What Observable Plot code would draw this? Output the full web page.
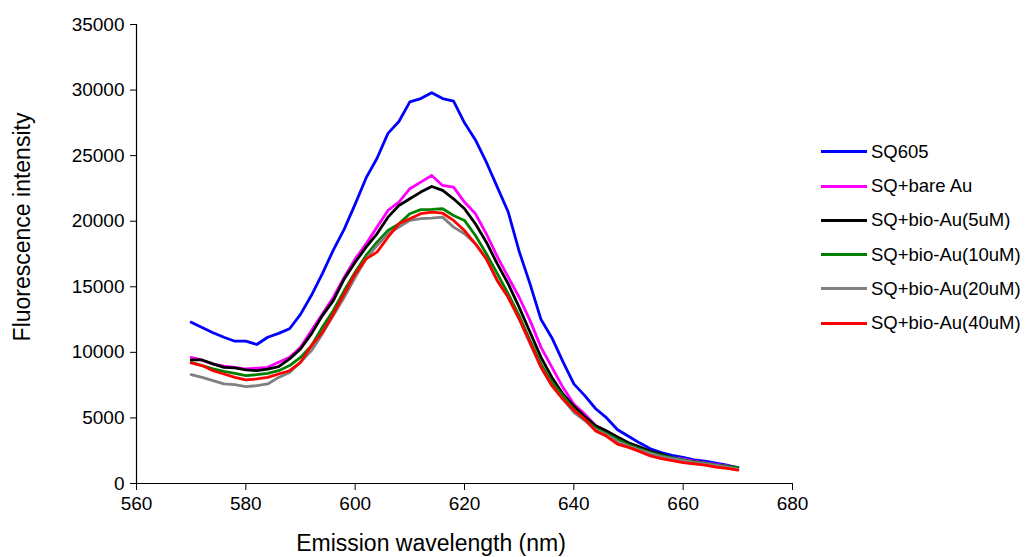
<!DOCTYPE html>
<html>
<head>
<meta charset="utf-8">
<script src="https://cdn.jsdelivr.net/npm/d3@7"></script>
<script src="https://cdn.jsdelivr.net/npm/@observablehq/plot@0.6"></script>
<style>
  html, body { margin: 0; padding: 0; background: #fff; }
  #wrap { position: relative; width: 1032px; height: 557px; font-family: "Liberation Sans", Arial, sans-serif; color: #000; }
  .title { position: absolute; white-space: nowrap; font-size: 23px; line-height: 1; }
  .leg { position: absolute; left: 821px; height: 20px; display: flex; align-items: center; font-size: 18.5px; white-space: nowrap; }
  .leg .sw { width: 46px; height: 3px; margin-right: 4px; }
</style>
</head>
<body>
<div id="wrap"></div>
<script>
const wavelengths = d3.range(570, 671, 2);

const seriesNames = ["SQ605", "SQ+bare Au", "SQ+bio-Au(5uM)", "SQ+bio-Au(10uM)", "SQ+bio-Au(20uM)", "SQ+bio-Au(40uM)"];
const seriesColors = ["#0000ff", "#ff00ff", "#000000", "#008000", "#808080", "#ff0000"];

const sq605 = [12300, 11900, 11500, 11150, 10850, 10850, 10600, 11150, 11450, 11800,
  12900, 14350, 16000, 17800, 19400, 21300, 23300, 24800, 26700, 27600,
  29100, 29350, 29800, 29350, 29150, 27500, 26200, 24500, 22600, 20700,
  17700, 15200, 12500, 11100, 9300, 7600, 6700, 5700, 5000, 4100,
  3600, 3100, 2650, 2350, 2150, 1990, 1800, 1700, 1550, 1400, 1200];
const bareAu = [9620, 9400, 9100, 8950, 8860, 8730, 8800, 8860, 9240, 9620,
  10380, 11660, 12930, 14200, 15730, 17130, 18280, 19550, 20820, 21460,
  22480, 22980, 23490, 22730, 22600, 21460, 20570, 19040, 17300, 15730,
  14200, 12420, 10380, 8860, 7330, 6060, 5300, 4400, 4000, 3400,
  3000, 2650, 2400, 2150, 1950, 1850, 1700, 1580, 1450, 1350, 1200];
const bio5 = [9420, 9420, 9120, 8860, 8810, 8660, 8600, 8730, 8910, 9500,
  10260, 11410, 12800, 13950, 15600, 16870, 18020, 19040, 20310, 21200,
  21710, 22220, 22650, 22350, 21710, 20950, 19800, 18400, 16750, 15220,
  13440, 11530, 9620, 8090, 6820, 5900, 5100, 4400, 4000, 3550,
  3100, 2800, 2450, 2250, 1950, 1730, 1650, 1500, 1400, 1300, 1220];
const bio10 = [9240, 8990, 8750, 8550, 8400, 8220, 8300, 8400, 8600, 8990,
  9620, 10510, 11910, 13190, 14710, 16110, 17390, 18400, 19290, 19800,
  20570, 20880, 20900, 20950, 20440, 20060, 18910, 17520, 16000, 14460,
  12800, 10900, 9120, 7710, 6700, 5680, 4900, 4200, 3800, 3350,
  2950, 2650, 2350, 2150, 1950, 1800, 1650, 1550, 1400, 1300, 1200];
const bio20 = [8300, 8090, 7840, 7590, 7540, 7380, 7460, 7590, 8090, 8470,
  9240, 10130, 11410, 12800, 14200, 15730, 17130, 18150, 19040, 19550,
  20060, 20190, 20240, 20310, 19550, 19040, 18280, 17130, 15470, 14200,
  12550, 10640, 8860, 7460, 6440, 5420, 4800, 4100, 3700, 3200,
  2850, 2550, 2300, 2050, 1900, 1750, 1600, 1500, 1380, 1250, 1100];
const bio40 = [9190, 8990, 8600, 8350, 8090, 7900, 7970, 8090, 8350, 8600,
  9240, 10510, 11530, 12930, 14460, 15990, 17130, 17640, 18780, 19800,
  20190, 20570, 20690, 20610, 20060, 19290, 18280, 17130, 15470, 14200,
  12550, 10770, 8860, 7460, 6440, 5600, 4900, 4000, 3600, 3000,
  2750, 2450, 2100, 1900, 1750, 1600, 1500, 1400, 1250, 1150, 1020];

const xTicks = [560, 580, 600, 620, 640, 660, 680];
const yTicks = [0, 5000, 10000, 15000, 20000, 25000, 30000, 35000];

const allSeries = [sq605, bareAu, bio5, bio10, bio20, bio40];
const data = [];
allSeries.forEach((vals, si) => {
  vals.forEach((v, i) => data.push({series: seriesNames[si], wl: wavelengths[i], value: v}));
});

const chart = Plot.plot({
  width: 1032,
  height: 557,
  marginLeft: 136,
  marginRight: 240,
  marginTop: 24,
  marginBottom: 74,
  style: {fontFamily: "'Liberation Sans', Arial, sans-serif", fontSize: "19px", color: "#000", background: "#fff"},
  x: {domain: [560, 680]},
  y: {domain: [0, 35000]},
  color: {domain: seriesNames, range: seriesColors},
  marks: [
    Plot.axisX({ticks: xTicks, tickSize: 7, tickPadding: 6, tickFormat: d => String(d), label: null, fontSize: 19}),
    Plot.axisY({ticks: yTicks, tickSize: 6, tickPadding: 6, tickFormat: d => String(d), label: null, fontSize: 19}),
    Plot.ruleY([0], {stroke: "#000", strokeWidth: 1.2}),
    Plot.ruleX([560], {stroke: "#000", strokeWidth: 1.2}),
    Plot.line(data, {x: "wl", y: "value", z: "series", stroke: "series", strokeWidth: 2.8, strokeLinejoin: "round"})
  ]
});

const wrap = document.getElementById("wrap");
wrap.appendChild(chart);

const yt = document.createElement("div");
yt.className = "title";
yt.textContent = "Fluorescence intensity";
yt.style.left = "22px";
yt.style.top = "227px";
yt.style.transform = "translate(-50%,-50%) rotate(-90deg)";
wrap.appendChild(yt);

const xt = document.createElement("div");
xt.className = "title";
xt.textContent = "Emission wavelength (nm)";
xt.style.left = "431px";
xt.style.top = "543px";
xt.style.transform = "translate(-50%,-50%)";
wrap.appendChild(xt);

seriesNames.forEach((name, i) => {
  const row = document.createElement("div");
  row.className = "leg";
  row.style.top = (151.7 + i * 34.3 - 10) + "px";
  const sw = document.createElement("div");
  sw.className = "sw";
  sw.style.background = seriesColors[i];
  const tx = document.createElement("span");
  tx.textContent = name;
  row.appendChild(sw);
  row.appendChild(tx);
  wrap.appendChild(row);
});
</script>
</body>
</html>
